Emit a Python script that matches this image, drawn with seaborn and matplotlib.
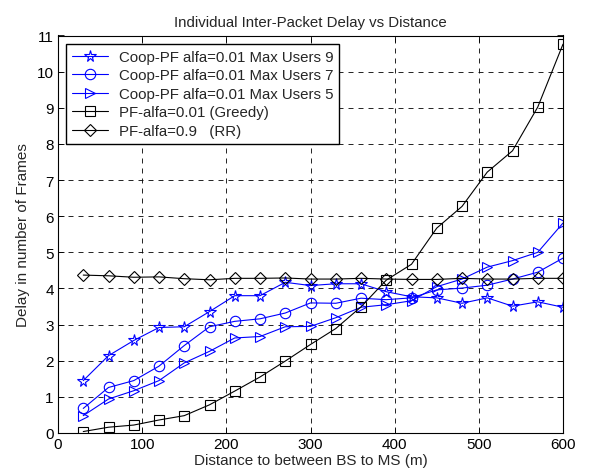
import numpy as np
import pandas as pd
import matplotlib
matplotlib.use("Agg")
import matplotlib.pyplot as plt
import seaborn as sns

distance = [30, 60, 90, 120, 150, 180, 210, 240, 270, 300,
            330, 360, 390, 420, 450, 480, 510, 540, 570, 600]

coop_users9 = [1.45, 2.14, 2.56, 2.92, 2.94, 3.36, 3.80, 3.80, 4.17, 4.08,
               4.13, 4.13, 3.91, 3.77, 3.74, 3.59, 3.74, 3.51, 3.63, 3.48]
coop_users7 = [0.68, 1.26, 1.45, 1.85, 2.42, 2.94, 3.09, 3.16, 3.32, 3.60,
               3.59, 3.73, 3.69, 3.74, 3.96, 4.01, 4.09, 4.26, 4.45, 4.84]
coop_users5 = [0.48, 0.94, 1.17, 1.45, 1.94, 2.26, 2.63, 2.67, 2.94, 2.95,
               3.19, 3.48, 3.55, 3.66, 4.05, 4.26, 4.59, 4.77, 5.00, 5.81]
pf_greedy = [0.04, 0.16, 0.22, 0.36, 0.48, 0.78, 1.16, 1.55, 1.99, 2.45,
             2.89, 3.49, 4.23, 4.67, 5.67, 6.27, 7.22, 7.81, 9.02, 10.76]
pf_rr = [4.37, 4.35, 4.31, 4.32, 4.27, 4.24, 4.28, 4.28, 4.29, 4.26,
         4.26, 4.28, 4.26, 4.25, 4.25, 4.28, 4.26, 4.26, 4.28, 4.28]

labels = ["Coop-PF alfa=0.01 Max Users 9",
          "Coop-PF alfa=0.01 Max Users 7",
          "Coop-PF alfa=0.01 Max Users 5",
          "PF-alfa=0.01 (Greedy)",
          "PF-alfa=0.9   (RR)"]

sns.set_theme(style="white")
plt.rcParams["font.family"] = ["Liberation Sans", "DejaVu Sans"]

fig = plt.figure(figsize=(5.89, 4.77), dpi=100)
ax = fig.add_axes([58 / 589, 1 - 434 / 477, (563 - 58) / 589, (434 - 36.5) / 477])

series = [
    (coop_users9, labels[0], "blue", "*", 8.5),
    (coop_users7, labels[1], "blue", "o", 7.5),
    (coop_users5, labels[2], "blue", ">", 7.5),
    (pf_greedy, labels[3], "black", "s", 7),
    (pf_rr, labels[4], "black", "D", 6),
]

for values, label, color, marker, ms in series:
    df = pd.DataFrame({"distance": distance, "delay": values})
    sns.lineplot(data=df, x="distance", y="delay", ax=ax, color=color,
                 marker=marker, markersize=ms, markerfacecolor="none",
                 markeredgecolor=color, markeredgewidth=0.8, linewidth=0.8,
                 label=label)

ax.set_xlim(0, 600)
ax.set_ylim(0, 11)
ax.set_xticks(range(0, 601, 100))
ax.set_yticks(range(0, 12))
ax.grid(True, color="black", linestyle=(0, (6, 6)), linewidth=0.6)
ax.tick_params(direction="in", length=4, width=0.6, labelsize=11, pad=3,
               top=True, right=True, bottom=True, left=True, colors="black")
for s in ax.spines.values():
    s.set_color("black")
    s.set_linewidth(0.8)

ax.set_title("Individual Inter-Packet Delay vs Distance", fontsize=10.8, pad=7)
ax.set_xlabel("Distance to between BS to MS (m)", fontsize=11, labelpad=1)
ax.set_ylabel("Delay in number of Frames", fontsize=11, labelpad=5)

leg = ax.legend(loc="upper left", fontsize=10.8, frameon=True, fancybox=False,
                edgecolor="black", borderaxespad=0.55, handlelength=2.4,
                labelspacing=0.3, borderpad=0.4, handletextpad=0.7)
leg.get_frame().set_linewidth(1.0)
leg.get_frame().set_alpha(1)

fig.savefig("out.png", dpi=100, facecolor="white")
